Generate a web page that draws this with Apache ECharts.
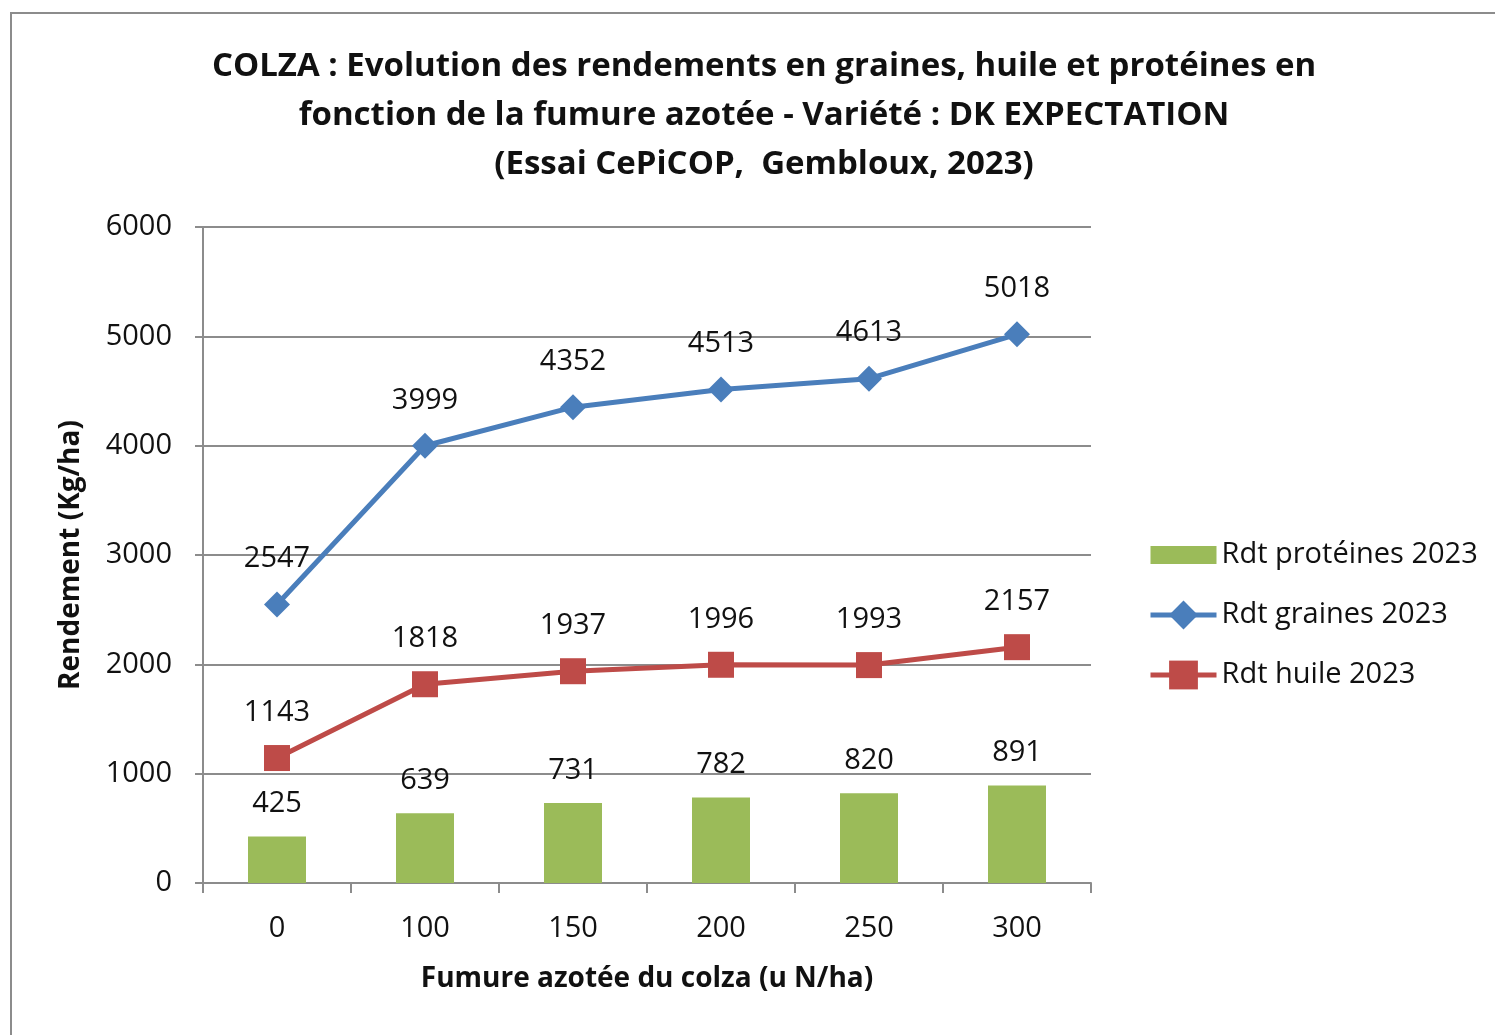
<!DOCTYPE html>
<html>
<head>
<meta charset="utf-8">
<script src="https://cdn.jsdelivr.net/npm/echarts@6/dist/echarts.min.js"></script>
<style>
  html, body { margin: 0; padding: 0; background: #fff; }
  #box { position: absolute; left: 10px; top: 12px; width: 1600px; height: 1200px; border: 2px solid #8c8c8c; box-sizing: border-box; }
  #chart { position: absolute; left: 0; top: 0; width: 1495px; height: 1035px; }
</style>
</head>
<body>
<div id="box"></div>
<div id="chart"></div>
<script>
  // données
  var doses = ['0', '100', '150', '200', '250', '300'];
  var proteines = [425, 639, 731, 782, 820, 891];
  var graines = [2547, 3999, 4352, 4513, 4613, 5018];
  var huile = [1143, 1818, 1937, 1996, 1993, 2157];

  var police = '"Open Sans", "Liberation Sans", sans-serif';

  var myChart = echarts.init(document.getElementById('chart'));
  var option = {
    animation: false,
    backgroundColor: 'transparent',
    title: {
      text: 'COLZA : Evolution des rendements en graines, huile et protéines en\nfonction de la fumure azotée - Variété : DK EXPECTATION\n(Essai CePiCOP,  Gembloux, 2023)',
      left: 759,
      top: 37,
      textAlign: 'center',
      textStyle: {
        fontFamily: police,
        fontSize: 33,
        fontWeight: 'bold',
        color: '#111',
        lineHeight: 49
      }
    },
    grid: {
      left: 203,
      right: 404,
      top: 227,
      bottom: 152,
      containLabel: false
    },
    legend: {
      orient: 'vertical',
      left: 1143,
      top: 532,
      itemGap: 24,
      itemWidth: 66,
      itemHeight: 36,
      textStyle: { fontFamily: police, fontSize: 29, color: '#111', lineHeight: 36 },
      data: [
        { name: 'Rdt protéines 2023', icon: 'path://M0,8 L66,8 L66,26 L0,26 Z' },
        { name: 'Rdt graines 2023', lineStyle: { width: 5 } },
        { name: 'Rdt huile 2023', lineStyle: { width: 5 } }
      ]
    },
    xAxis: {
      type: 'category',
      data: doses,
      name: 'Fumure azotée du colza (u N/ha)',
      nameLocation: 'middle',
      nameGap: 82,
      nameTextStyle: { fontFamily: police, fontSize: 28, fontWeight: 'bold', color: '#111' },
      axisLine: { lineStyle: { color: '#8c8c8c', width: 2 } },
      axisTick: { show: true, length: 10, lineStyle: { color: '#8c8c8c', width: 2 } },
      axisLabel: { fontFamily: police, fontSize: 29, color: '#111', margin: 31 }
    },
    yAxis: {
      type: 'value',
      min: 0,
      max: 6000,
      interval: 1000,
      name: 'Rendement (Kg/ha)',
      nameLocation: 'middle',
      nameGap: 118,
      nameTextStyle: { fontFamily: police, fontSize: 28, fontWeight: 'bold', color: '#111' },
      axisLine: { show: true, lineStyle: { color: '#8c8c8c', width: 2 } },
      axisTick: { show: true, length: 8, lineStyle: { color: '#8c8c8c', width: 2 } },
      axisLabel: {
        fontFamily: police, fontSize: 29, color: '#111', margin: 31,
        formatter: function(v) { return String(v); }
      },
      splitLine: { lineStyle: { color: '#8c8c8c', width: 2 } }
    },
    series: [
      {
        name: 'Rdt protéines 2023',
        type: 'bar',
        data: proteines,
        barWidth: 58,
        itemStyle: { color: '#9bbb59' },
        label: {
          show: true, position: 'top', distance: 18,
          fontFamily: police, fontSize: 29, color: '#111'
        }
      },
      {
        name: 'Rdt graines 2023',
        type: 'line',
        data: graines,
        symbol: 'diamond',
        symbolSize: 26,
        lineStyle: { color: '#4a7ebb', width: 5 },
        itemStyle: { color: '#4a7ebb' },
        label: {
          show: true, position: 'top', distance: 18,
          fontFamily: police, fontSize: 29, color: '#111'
        }
      },
      {
        name: 'Rdt huile 2023',
        type: 'line',
        data: huile,
        symbol: 'rect',
        symbolSize: 26,
        lineStyle: { color: '#be4b48', width: 5 },
        itemStyle: { color: '#be4b48' },
        label: {
          show: true, position: 'top', distance: 18,
          fontFamily: police, fontSize: 29, color: '#111'
        }
      }
    ]
  };

  myChart.setOption(option);
  window.addEventListener('resize', function() {
    myChart.resize();
  });
</script>
</body>
</html>
